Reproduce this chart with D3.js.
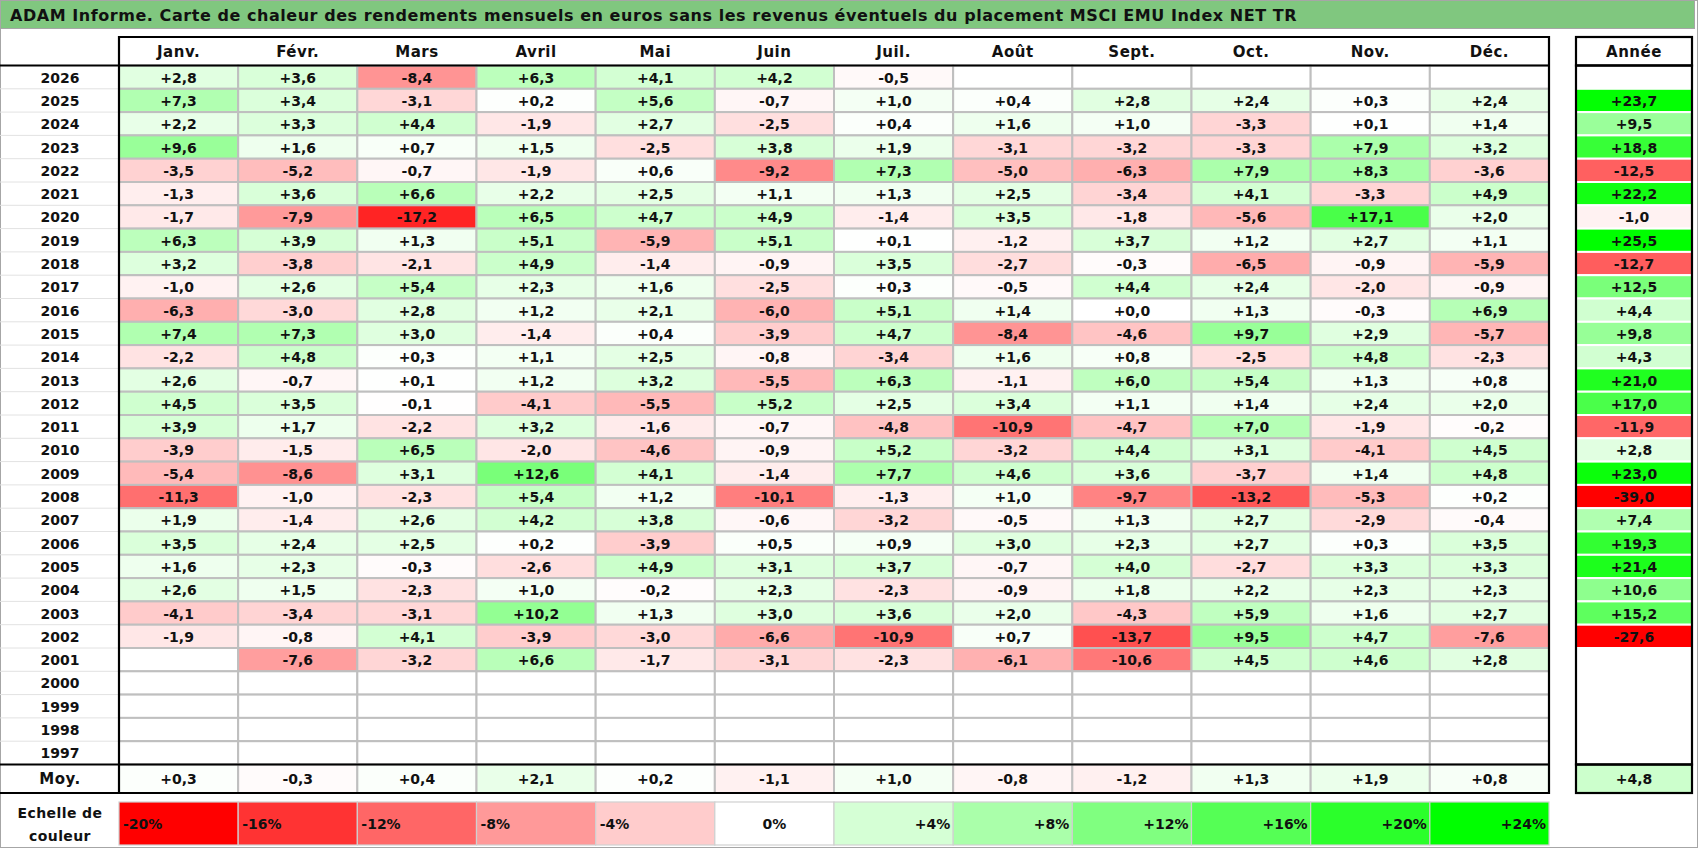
<!DOCTYPE html>
<html>
<head>
<meta charset="utf-8">
<script src="https://cdn.jsdelivr.net/npm/d3@7"></script>
<style>
  body { margin: 0; background: #fff; }
  svg text { font-family: "DejaVu Sans", Verdana, sans-serif; font-weight: bold; fill: #111; }
</style>
</head>
<body>
<div id="chart"></div>
<script>
// Data (monthly returns in %, null = no value)
var titleText = 'ADAM Informe. Carte de chaleur des rendements mensuels en euros sans les revenus éventuels du placement MSCI EMU Index NET TR';
var months = ['Janv.','Févr.','Mars','Avril','Mai','Juin','Juil.','Août','Sept.','Oct.','Nov.','Déc.'];
var years = [2026,2025,2024,2023,2022,2021,2020,2019,2018,2017,2016,2015,2014,2013,2012,2011,2010,2009,2008,2007,2006,2005,2004,2003,2002,2001,2000,1999,1998,1997];
var monthly = [
  [2.8, 3.6, -8.4, 6.3, 4.1, 4.2, -0.5, null, null, null, null, null],
  [7.3, 3.4, -3.1, 0.2, 5.6, -0.7, 1.0, 0.4, 2.8, 2.4, 0.3, 2.4],
  [2.2, 3.3, 4.4, -1.9, 2.7, -2.5, 0.4, 1.6, 1.0, -3.3, 0.1, 1.4],
  [9.6, 1.6, 0.7, 1.5, -2.5, 3.8, 1.9, -3.1, -3.2, -3.3, 7.9, 3.2],
  [-3.5, -5.2, -0.7, -1.9, 0.6, -9.2, 7.3, -5.0, -6.3, 7.9, 8.3, -3.6],
  [-1.3, 3.6, 6.6, 2.2, 2.5, 1.1, 1.3, 2.5, -3.4, 4.1, -3.3, 4.9],
  [-1.7, -7.9, -17.2, 6.5, 4.7, 4.9, -1.4, 3.5, -1.8, -5.6, 17.1, 2.0],
  [6.3, 3.9, 1.3, 5.1, -5.9, 5.1, 0.1, -1.2, 3.7, 1.2, 2.7, 1.1],
  [3.2, -3.8, -2.1, 4.9, -1.4, -0.9, 3.5, -2.7, -0.3, -6.5, -0.9, -5.9],
  [-1.0, 2.6, 5.4, 2.3, 1.6, -2.5, 0.3, -0.5, 4.4, 2.4, -2.0, -0.9],
  [-6.3, -3.0, 2.8, 1.2, 2.1, -6.0, 5.1, 1.4, 0.0, 1.3, -0.3, 6.9],
  [7.4, 7.3, 3.0, -1.4, 0.4, -3.9, 4.7, -8.4, -4.6, 9.7, 2.9, -5.7],
  [-2.2, 4.8, 0.3, 1.1, 2.5, -0.8, -3.4, 1.6, 0.8, -2.5, 4.8, -2.3],
  [2.6, -0.7, 0.1, 1.2, 3.2, -5.5, 6.3, -1.1, 6.0, 5.4, 1.3, 0.8],
  [4.5, 3.5, -0.1, -4.1, -5.5, 5.2, 2.5, 3.4, 1.1, 1.4, 2.4, 2.0],
  [3.9, 1.7, -2.2, 3.2, -1.6, -0.7, -4.8, -10.9, -4.7, 7.0, -1.9, -0.2],
  [-3.9, -1.5, 6.5, -2.0, -4.6, -0.9, 5.2, -3.2, 4.4, 3.1, -4.1, 4.5],
  [-5.4, -8.6, 3.1, 12.6, 4.1, -1.4, 7.7, 4.6, 3.6, -3.7, 1.4, 4.8],
  [-11.3, -1.0, -2.3, 5.4, 1.2, -10.1, -1.3, 1.0, -9.7, -13.2, -5.3, 0.2],
  [1.9, -1.4, 2.6, 4.2, 3.8, -0.6, -3.2, -0.5, 1.3, 2.7, -2.9, -0.4],
  [3.5, 2.4, 2.5, 0.2, -3.9, 0.5, 0.9, 3.0, 2.3, 2.7, 0.3, 3.5],
  [1.6, 2.3, -0.3, -2.6, 4.9, 3.1, 3.7, -0.7, 4.0, -2.7, 3.3, 3.3],
  [2.6, 1.5, -2.3, 1.0, -0.2, 2.3, -2.3, -0.9, 1.8, 2.2, 2.3, 2.3],
  [-4.1, -3.4, -3.1, 10.2, 1.3, 3.0, 3.6, 2.0, -4.3, 5.9, 1.6, 2.7],
  [-1.9, -0.8, 4.1, -3.9, -3.0, -6.6, -10.9, 0.7, -13.7, 9.5, 4.7, -7.6],
  [null, -7.6, -3.2, 6.6, -1.7, -3.1, -2.3, -6.1, -10.6, 4.5, 4.6, 2.8],
  [null, null, null, null, null, null, null, null, null, null, null, null],
  [null, null, null, null, null, null, null, null, null, null, null, null],
  [null, null, null, null, null, null, null, null, null, null, null, null],
  [null, null, null, null, null, null, null, null, null, null, null, null]
];
var annual = [null, 23.7, 9.5, 18.8, -12.5, 22.2, -1.0, 25.5, -12.7, 12.5, 4.4, 9.8, 4.3, 21.0, 17.0, -11.9, 2.8, 23.0, -39.0, 7.4, 19.3, 21.4, 10.6, 15.2, -27.6, null, null, null, null, null];
var monthAverages = [0.3, -0.3, 0.4, 2.1, 0.2, -1.1, 1.0, -0.8, -1.2, 1.3, 1.9, 0.8];
var annualAverage = 4.8;
var scaleSteps = [-20, -16, -12, -8, -4, 0, 4, 8, 12, 16, 20, 24];

var W = 1698, H = 848;
var svg = d3.select('#chart').append('svg').attr('width', W).attr('height', H);

var color = d3.scaleLinear().domain([-20, 0, 24]).range(['#ff0000', '#ffffff', '#00ff00']).clamp(true);
var fmt = function(v){ return (v >= 0 ? '+' : '') + v.toFixed(1).replace('.', ','); };

var x = d3.scaleBand().domain(months).range([119, 1549]);
var y = d3.scaleBand().domain(years).range([65.5, 764.5]);
var yearX = 60, annX0 = 1576, annX1 = 1692;
var headTop = 37, headBot = 65.5, moyTop = 764.5, moyBot = 793, legTop = 802, legBot = 845;

// frame + title bar
svg.append('rect').attr('x', 0.5).attr('y', 0.5).attr('width', W - 1).attr('height', H - 1)
  .attr('fill', '#fff').attr('stroke', '#a6a6a6');
svg.append('rect').attr('x', 0.5).attr('y', 0.5).attr('width', W - 4).attr('height', 28)
  .attr('fill', '#80c77f').attr('stroke', '#a6a6a6');
svg.append('text').attr('x', 10).attr('y', 21).style('font-size', '16px').style('letter-spacing', '0.55px').text(titleText);

// header
svg.selectAll('.mhead').data(months).enter().append('text')
  .attr('x', function(d){ return x(d) + x.bandwidth() / 2; })
  .attr('y', (headTop + headBot) / 2 + 5.5)
  .attr('text-anchor', 'middle').style('font-size', '15px').style('letter-spacing', '0.5px').text(function(d){ return d; });
svg.append('text').attr('x', (annX0 + annX1) / 2).attr('y', (headTop + headBot) / 2 + 5.5)
  .attr('text-anchor', 'middle').style('font-size', '15px').style('letter-spacing', '0.5px').text('Année');

// year column faint row lines
svg.selectAll('.yline').data(years.slice(1)).enter().append('line')
  .attr('x1', 0).attr('x2', 119).attr('y1', function(d){ return y(d); }).attr('y2', function(d){ return y(d); })
  .attr('stroke', '#e2e2e2').attr('stroke-width', 1);

// monthly cells
var cells = [];
years.forEach(function(yr, i){
  months.forEach(function(m, j){ cells.push({year: yr, month: m, v: monthly[i][j]}); });
});
var cellG = svg.selectAll('.cell').data(cells).enter().append('g');
cellG.append('rect')
  .attr('x', function(d){ return x(d.month); }).attr('y', function(d){ return y(d.year); })
  .attr('width', x.bandwidth()).attr('height', y.bandwidth())
  .attr('fill', function(d){ return d.v == null ? '#fff' : color(d.v); })
  .attr('stroke', '#bfbfbf').attr('stroke-width', 2);
cellG.filter(function(d){ return d.v != null; }).append('text')
  .attr('x', function(d){ return x(d.month) + x.bandwidth() / 2; })
  .attr('y', function(d){ return y(d.year) + y.bandwidth() / 2 + 5.5; })
  .attr('text-anchor', 'middle').style('font-size', '14px').text(function(d){ return fmt(d.v); });

// year labels
svg.selectAll('.ylab').data(years).enter().append('text')
  .attr('x', yearX).attr('y', function(d){ return y(d) + y.bandwidth() / 2 + 5.5; })
  .attr('text-anchor', 'middle').style('font-size', '14px').text(function(d){ return d; });

// annual column
var annG = svg.selectAll('.ann').data(years.map(function(yr, i){ return {year: yr, v: annual[i]}; })).enter().append('g');
annG.append('rect')
  .attr('x', annX0).attr('y', function(d){ return y(d.year); })
  .attr('width', annX1 - annX0).attr('height', y.bandwidth())
  .attr('fill', function(d){ return d.v == null ? '#fff' : color(d.v); })
  .attr('stroke', '#fff').attr('stroke-width', 2);
annG.filter(function(d){ return d.v != null; }).append('text')
  .attr('x', (annX0 + annX1) / 2).attr('y', function(d){ return y(d.year) + y.bandwidth() / 2 + 5.5; })
  .attr('text-anchor', 'middle').style('font-size', '14px').text(function(d){ return fmt(d.v); });

// averages row
var avgG = svg.selectAll('.avg').data(months.map(function(m, j){ return {month: m, v: monthAverages[j]}; })).enter().append('g');
avgG.append('rect')
  .attr('x', function(d){ return x(d.month); }).attr('y', moyTop)
  .attr('width', x.bandwidth()).attr('height', moyBot - moyTop)
  .attr('fill', function(d){ return color(d.v); }).attr('stroke', '#bfbfbf').attr('stroke-width', 2);
avgG.append('text')
  .attr('x', function(d){ return x(d.month) + x.bandwidth() / 2; }).attr('y', (moyTop + moyBot) / 2 + 5.5)
  .attr('text-anchor', 'middle').style('font-size', '14px').text(function(d){ return fmt(d.v); });
svg.append('rect').attr('x', annX0).attr('y', moyTop).attr('width', annX1 - annX0).attr('height', moyBot - moyTop)
  .attr('fill', color(annualAverage));
svg.append('text').attr('x', (annX0 + annX1) / 2).attr('y', (moyTop + moyBot) / 2 + 5.5)
  .attr('text-anchor', 'middle').style('font-size', '14px').text(fmt(annualAverage));
svg.append('text').attr('x', yearX).attr('y', (moyTop + moyBot) / 2 + 5.5)
  .attr('text-anchor', 'middle').style('font-size', '15px').style('letter-spacing', '0.5px').text('Moy.');

// thick borders
var thick = function(x1, y1, x2, y2){
  svg.append('line').attr('x1', x1).attr('y1', y1).attr('x2', x2).attr('y2', y2)
    .attr('stroke', '#000').attr('stroke-width', 2.2);
};
thick(119, headTop, 1549, headTop);
thick(0, headBot, 1549, headBot);
thick(0, moyTop, 1549, moyTop);
thick(0, moyBot, 1549, moyBot);
thick(119, headTop - 1, 119, moyBot + 1);
thick(1549, headTop - 1, 1549, moyBot + 1);
svg.append('rect').attr('x', annX0).attr('y', headTop).attr('width', annX1 - annX0).attr('height', headBot - headTop)
  .attr('fill', 'none').attr('stroke', '#000').attr('stroke-width', 2.2);
svg.append('rect').attr('x', annX0).attr('y', headBot).attr('width', annX1 - annX0).attr('height', moyTop - headBot)
  .attr('fill', 'none').attr('stroke', '#000').attr('stroke-width', 2.2);
svg.append('rect').attr('x', annX0).attr('y', moyTop).attr('width', annX1 - annX0).attr('height', moyBot - moyTop)
  .attr('fill', 'none').attr('stroke', '#000').attr('stroke-width', 2.2);

// colour scale legend
var xLeg = d3.scaleBand().domain(scaleSteps).range([119, 1549]);
var legG = svg.selectAll('.leg').data(scaleSteps).enter().append('g');
legG.append('rect')
  .attr('x', function(d){ return xLeg(d); }).attr('y', legTop)
  .attr('width', xLeg.bandwidth()).attr('height', legBot - legTop)
  .attr('fill', function(d){ return color(d); }).attr('stroke', '#d0d0d0').attr('stroke-width', 1.2);
legG.append('text')
  .attr('x', function(d){ return d < 0 ? xLeg(d) + 4 : d === 0 ? xLeg(d) + xLeg.bandwidth() / 2 : xLeg(d) + xLeg.bandwidth() - 3; })
  .attr('y', (legTop + legBot) / 2 + 5.5)
  .attr('text-anchor', function(d){ return d < 0 ? 'start' : d === 0 ? 'middle' : 'end'; })
  .style('font-size', '14px')
  .text(function(d){ return (d > 0 ? '+' : '') + d + '%'; });
svg.append('text').attr('x', yearX).attr('y', 818).attr('text-anchor', 'middle').style('font-size', '14px').style('letter-spacing', '0.4px').text('Echelle de');
svg.append('text').attr('x', yearX).attr('y', 841).attr('text-anchor', 'middle').style('font-size', '14px').style('letter-spacing', '0.4px').text('couleur');
</script>
</body>
</html>
